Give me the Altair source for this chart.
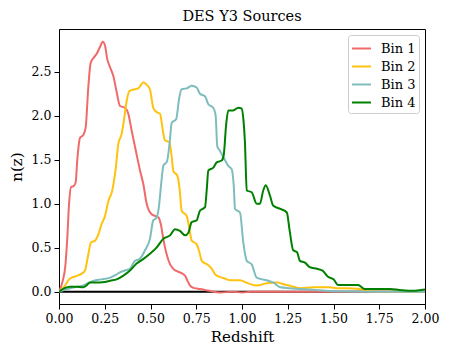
import altair as alt
import pandas as pd

bin1_x = [0.0, 0.02, 0.035, 0.045, 0.055, 0.066, 0.08, 0.091, 0.1, 0.115, 0.133, 0.146, 0.16, 0.173, 0.19, 0.205, 0.224, 0.239, 0.251, 0.264, 0.279, 0.297, 0.315, 0.333, 0.36, 0.379, 0.397, 0.424, 0.443, 0.461, 0.479, 0.506, 0.525, 0.545, 0.557, 0.57, 0.585, 0.607, 0.63, 0.66, 0.689, 0.703, 0.716, 0.74, 0.77, 0.82, 0.88, 0.95, 1.0, 1.05, 1.1, 1.2, 1.4, 1.6, 1.8, 2.0]
bin1_y = [0.0, 0.12, 0.3, 0.6, 1.0, 1.19, 1.2, 1.24, 1.5, 1.75, 1.78, 1.87, 2.32, 2.6, 2.66, 2.7, 2.78, 2.84, 2.80, 2.64, 2.55, 2.45, 2.27, 2.11, 2.09, 2.02, 1.83, 1.56, 1.375, 1.22, 1.0, 0.88, 0.86, 0.84, 0.76, 0.6, 0.45, 0.31, 0.25, 0.22, 0.18, 0.12, 0.07, 0.04, 0.03, 0.01, -0.01, 0.0, -0.01, 0.0, 0.0, 0.0, 0.0, 0.0, 0.0, 0.0]

bin2_x = [0.0, 0.03, 0.055, 0.069, 0.085, 0.097, 0.12, 0.142, 0.158, 0.175, 0.197, 0.215, 0.233, 0.25, 0.27, 0.291, 0.31, 0.324, 0.342, 0.355, 0.37, 0.385, 0.397, 0.415, 0.433, 0.445, 0.461, 0.475, 0.497, 0.515, 0.535, 0.552, 0.57, 0.579, 0.603, 0.615, 0.625, 0.646, 0.66, 0.67, 0.698, 0.712, 0.725, 0.752, 0.767, 0.78, 0.816, 0.835, 0.852, 0.875, 0.898, 0.934, 0.989, 1.026, 1.08, 1.135, 1.19, 1.244, 1.28, 1.317, 1.39, 1.48, 1.517, 1.57, 1.645, 1.67, 1.75, 1.85, 2.0]
bin2_y = [0.0, 0.06, 0.14, 0.16, 0.17, 0.18, 0.2, 0.24, 0.4, 0.56, 0.58, 0.65, 0.77, 0.85, 1.03, 1.15, 1.4, 1.68, 1.79, 1.95, 2.17, 2.28, 2.29, 2.30, 2.31, 2.34, 2.38, 2.36, 2.30, 2.09, 2.04, 2.02, 1.8, 1.72, 1.70, 1.55, 1.37, 1.32, 1.15, 0.92, 0.86, 0.72, 0.58, 0.54, 0.45, 0.35, 0.30, 0.26, 0.20, 0.17, 0.155, 0.13, 0.13, 0.10, 0.07, 0.095, 0.105, 0.075, 0.057, 0.04, 0.05, 0.05, 0.04, 0.04, 0.03, 0.01, 0.0, 0.0, 0.0]

bin3_x = [0.0, 0.03, 0.06, 0.1, 0.133, 0.16, 0.19, 0.23, 0.28, 0.31, 0.333, 0.36, 0.388, 0.405, 0.415, 0.44, 0.47, 0.497, 0.515, 0.533, 0.545, 0.56, 0.57, 0.59, 0.605, 0.616, 0.64, 0.657, 0.67, 0.698, 0.725, 0.752, 0.77, 0.798, 0.816, 0.843, 0.856, 0.865, 0.88, 0.898, 0.925, 0.944, 0.955, 0.962, 0.989, 1.007, 1.026, 1.053, 1.08, 1.135, 1.17, 1.21, 1.26, 1.317, 1.4, 1.5, 1.7, 2.0]
bin3_y = [0.0, 0.02, 0.04, 0.055, 0.07, 0.1, 0.125, 0.14, 0.16, 0.19, 0.22, 0.24, 0.26, 0.32, 0.35, 0.37, 0.47, 0.60, 0.81, 0.84, 0.95, 1.26, 1.43, 1.48, 1.7, 1.92, 1.96, 2.2, 2.30, 2.31, 2.34, 2.32, 2.25, 2.22, 2.13, 2.09, 2.0, 1.65, 1.60, 1.53, 1.43, 1.39, 1.2, 0.94, 0.90, 0.56, 0.35, 0.31, 0.16, 0.13, 0.105, 0.05, 0.04, 0.03, 0.02, 0.005, 0.0, 0.0]

bin4_x = [0.0, 0.03, 0.06, 0.1, 0.133, 0.15, 0.17, 0.2, 0.224, 0.25, 0.28, 0.315, 0.35, 0.388, 0.424, 0.46, 0.497, 0.533, 0.57, 0.607, 0.634, 0.661, 0.689, 0.707, 0.725, 0.752, 0.77, 0.798, 0.807, 0.816, 0.843, 0.862, 0.889, 0.9, 0.913, 0.925, 0.952, 0.98, 0.998, 1.008, 1.016, 1.026, 1.053, 1.08, 1.098, 1.116, 1.13, 1.153, 1.17, 1.21, 1.245, 1.26, 1.28, 1.30, 1.317, 1.344, 1.37, 1.41, 1.44, 1.47, 1.50, 1.526, 1.57, 1.635, 1.65, 1.67, 1.75, 1.81, 1.86, 1.93, 2.0]
bin4_y = [0.0, 0.04, 0.057, 0.055, 0.05, 0.07, 0.105, 0.105, 0.105, 0.11, 0.125, 0.14, 0.18, 0.24, 0.32, 0.37, 0.43, 0.50, 0.60, 0.64, 0.71, 0.69, 0.64, 0.67, 0.79, 0.81, 0.92, 0.96, 1.15, 1.375, 1.41, 1.47, 1.49, 1.55, 1.89, 2.06, 2.06, 2.09, 2.08, 1.95, 1.70, 1.15, 1.13, 1.0, 1.0, 1.15, 1.21, 1.09, 0.98, 0.94, 0.90, 0.70, 0.47, 0.45, 0.35, 0.33, 0.28, 0.26, 0.24, 0.17, 0.14, 0.075, 0.075, 0.075, 0.057, 0.03, 0.03, 0.03, 0.02, 0.01, 0.025]

series_names = ["Bin 1", "Bin 2", "Bin 3", "Bin 4"]
series_colors = ["#F06A6A", "#FFC20E", "#7FBDBD", "#008000"]

rows = []
for name, xs, ys in zip(series_names, [bin1_x, bin2_x, bin3_x, bin4_x], [bin1_y, bin2_y, bin3_y, bin4_y]):
    for i, (xv, yv) in enumerate(zip(xs, ys)):
        rows.append({"z": xv, "nz": yv, "bin": name, "order": i})
df = pd.DataFrame(rows)

x_ticks = [0.0, 0.25, 0.5, 0.75, 1.0, 1.25, 1.5, 1.75, 2.0]
y_ticks = [0.0, 0.5, 1.0, 1.5, 2.0, 2.5]

font = "DejaVu Serif"

zero = alt.Chart(pd.DataFrame({"y": [0.0]})).mark_rule(color="black", strokeWidth=2).encode(
    y=alt.Y("y:Q")
)

lines = alt.Chart(df).mark_line(strokeWidth=2, interpolate="monotone", clip=True).encode(
    x=alt.X("z:Q", title="Redshift",
            scale=alt.Scale(domain=[0, 2], nice=False, zero=False),
            axis=alt.Axis(values=x_ticks, format=".2f", grid=False, labelFlush=False)),
    y=alt.Y("nz:Q", title="n(z)",
            scale=alt.Scale(domain=[-0.14, 2.985], nice=False, zero=False),
            axis=alt.Axis(values=y_ticks, format=".1f", grid=False, labelFlush=False)),
    color=alt.Color("bin:N", scale=alt.Scale(domain=series_names, range=series_colors),
                    legend=alt.Legend(title=None, orient="top-right", offset=6, padding=3,
                                      strokeColor="#cccccc", fillColor="white", cornerRadius=3,
                                      symbolType="stroke", symbolStrokeWidth=2, symbolSize=361,
                                      labelFont=font, labelFontSize=13, labelColor="black",
                                      rowPadding=0, labelOffset=9)),
    order="order:Q",
)

chart = alt.layer(zero, lines).properties(
    width=366, height=275,
    title=alt.TitleParams("DES Y3 Sources", font=font, fontSize=14.5, fontWeight="normal", offset=5, color="black"),
    autosize=alt.AutoSizeParams(type="none"),
    padding={"left": 51, "top": 21, "right": 16, "bottom": 51},
).configure_view(stroke="black", strokeWidth=1).configure_axis(
    labelFont=font, labelFontSize=12.5, labelColor="black",
    titleFont=font, titleFontSize=15, titleFontWeight="normal", titleColor="black",
    domainColor="black", tickColor="black", tickSize=5, labelPadding=3, domainWidth=1,
).configure_axisY(titlePadding=7).configure_axisX(titlePadding=5)

chart.save("out.html", embed_options={"renderer": "svg", "actions": False})
